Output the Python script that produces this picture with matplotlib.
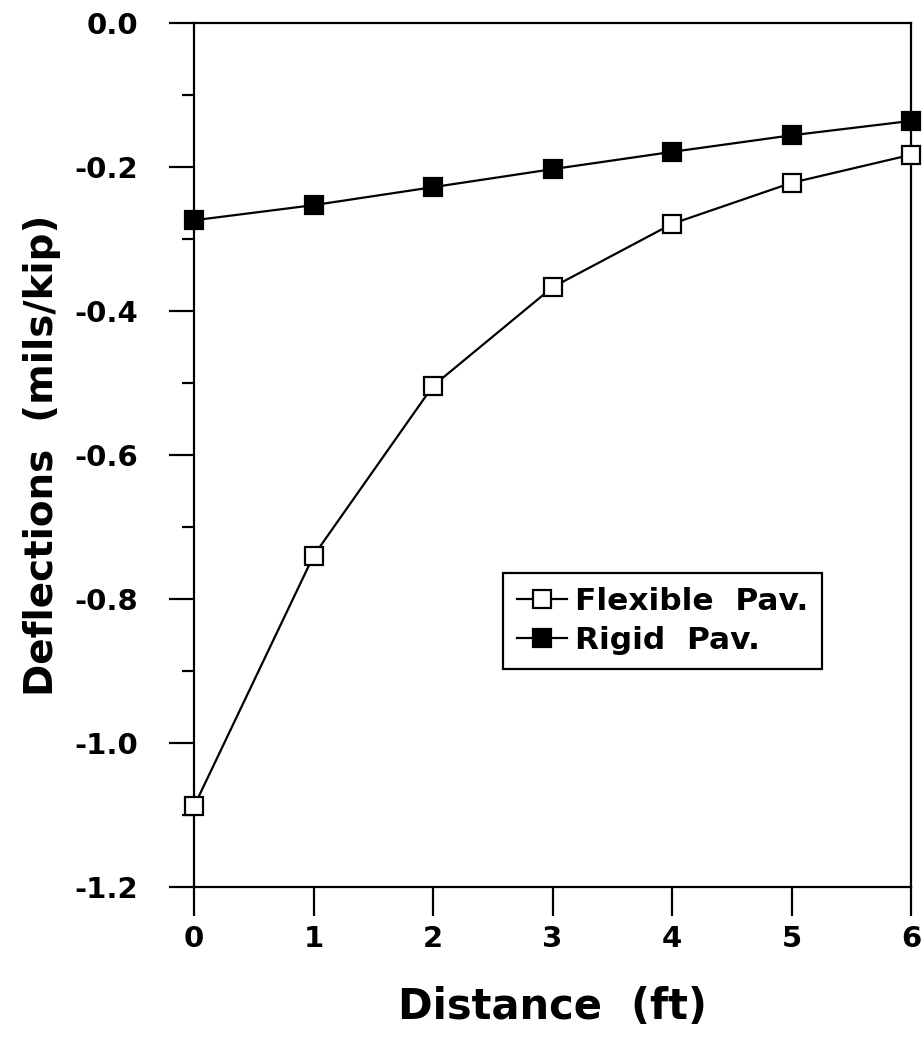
import matplotlib
matplotlib.use("Agg")
from matplotlib import pyplot as plt
from matplotlib.ticker import MultipleLocator

# deflection basin, mils per kip of load
distance = [0, 1, 2, 3, 4, 5, 6]
flexible = [-1.088, -0.740, -0.504, -0.367, -0.279, -0.222, -0.183]
rigid = [-0.274, -0.253, -0.228, -0.203, -0.179, -0.156, -0.136]


def main():
    plt.rcParams["font.family"] = ["DejaVu Sans"]
    plt.rcParams["font.weight"] = "bold"

    fig = plt.figure(figsize=(9.24, 10.59), dpi=100)
    ax = fig.add_axes([0.21, 0.1624, 0.776, 0.8159])

    ax.plot(distance, flexible, color="black", lw=1.6, marker="s", ms=12.5,
            mfc="white", mec="black", mew=1.6, clip_on=False, zorder=3,
            label="Flexible  Pav.")
    ax.plot(distance, rigid, color="black", lw=1.6, marker="s", ms=12.5,
            mfc="black", mec="black", mew=1.6, clip_on=False, zorder=3,
            label="Rigid  Pav.")

    ax.set_xlim(0, 6)
    ax.set_ylim(-1.2, 0.0)
    ax.xaxis.set_major_locator(MultipleLocator(1))
    ax.yaxis.set_major_locator(MultipleLocator(0.2))
    ax.yaxis.set_minor_locator(MultipleLocator(0.1))
    ax.yaxis.set_major_formatter(lambda v, p: f"{v:.1f}".replace("-0.0", "0.0"))

    for s in ax.spines.values():
        s.set_linewidth(1.6)

    ax.tick_params(axis="y", which="major", direction="out", length=18,
                   width=1.6, pad=22, labelsize=21)
    ax.tick_params(axis="y", which="minor", direction="out", length=9, width=1.6)
    ax.tick_params(axis="x", which="major", direction="out", length=21,
                   width=1.6, pad=6, labelsize=21)

    ax.set_xlabel("Distance  (ft)", fontsize=30, fontweight="bold", labelpad=24)
    ax.set_ylabel("Deflections  (mils/kip)", fontsize=28, fontweight="bold", labelpad=10)

    leg = ax.legend(loc="upper left", bbox_to_anchor=(0.431, 0.363),
                    borderaxespad=0, fontsize=22.5, handlelength=1.6,
                    handletextpad=0.25, borderpad=0.45, labelspacing=0.3,
                    fancybox=False, edgecolor="black", framealpha=1)
    leg.get_frame().set_linewidth(1.6)

    fig.savefig("out.png", dpi=100)


if __name__ == "__main__":
    main()
